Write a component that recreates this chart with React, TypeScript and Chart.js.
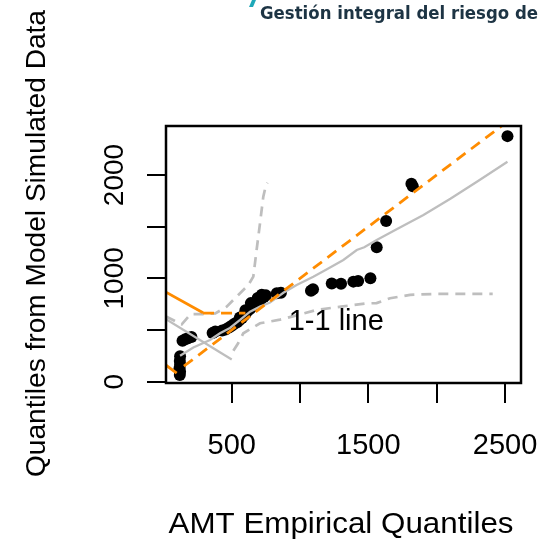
import React, { useEffect, useRef } from 'react';
import { Chart, registerables } from 'chart.js';

Chart.register(...registerables);

const W = 541;
const H = 543;

// axis ticks
const xTicks = [500, 1000, 1500, 2000, 2500];
const xTickLabels = ['500', '', '1500', '', '2500'];
const yTicks = [0, 500, 1000, 1500, 2000];
const yTickLabels = ['0', '', '1000', '', '2000'];
const xRange = [19, 2617];
const yRange = [-13, 2474];

// observed quantile pairs (points)
const empiricalQ = [
  120, 122, 118, 122, 120, 122,
  140, 160, 180, 205,
  360, 380,
  430, 455, 480, 500, 520, 540, 555, 575, 590, 605, 620, 635, 650, 665, 680, 700, 715, 735, 750,
  560, 600, 640, 690, 720,
  830, 860,
  1080, 1095,
  1232, 1300, 1390, 1425, 1515,
  1561, 1630, 1815, 1825, 2518,
];
const simulatedQ = [
  65, 95, 130, 165, 200, 245,
  395, 410, 420, 432,
  470, 485,
  495, 505, 525, 540, 560, 575, 595, 615, 640, 665, 690, 705, 725, 745, 760, 780, 800, 820, 835,
  620, 690, 760, 810, 840,
  855, 860,
  880, 895,
  951, 948, 968, 975, 1000,
  1300, 1554, 1915, 1890, 2376,
];

// 1-1 reference line
const oneToOneX = [150, 2700];
const oneToOneY = [150, 2700];

// grey solid central curve
const centerX = [122, 219, 341, 414, 487, 561, 634, 707, 780, 878, 975, 1097, 1200, 1317, 1415, 1470, 1561, 1700, 1903, 2100, 2300, 2518];
const centerY = [250, 330, 403, 468, 520, 597, 677, 726, 765, 860, 935, 1016, 1090, 1177, 1274, 1300, 1371, 1470, 1613, 1770, 1940, 2128];

// grey solid descending line
const greyDescX = [19, 500];
const greyDescY = [605, 215];

// grey dashed upper band
const upperBandX = [19, 134, 200, 290, 380, 463, 548, 621, 658, 682, 707, 731, 751, 762];
const upperBandY = [630, 555, 654, 654, 660, 726, 839, 935, 1016, 1274, 1532, 1790, 1903, 1925];

// grey dashed lower band
const lowerBandX = [512, 548, 585, 707, 853, 1000, 1122, 1300, 1488, 1560, 1659, 1805, 2000, 2410];
const lowerBandY = [300, 374, 468, 565, 600, 650, 694, 726, 758, 760, 807, 840, 850, 850];

// orange segments
const orangeUpperX = [19, 290];
const orangeUpperY = [866, 667];
const orangeDashX = [290, 600];
const orangeDashY = [663, 663];
const orangeLowerX = [19, 97];
const orangeLowerY = [160, 82];

// annotation
const lineLabel = '1-1 line';
const lineLabelPos = [1265, 0];

const xTitle = 'AMT Empirical Quantiles';
const yTitle = 'Quantiles from Model Simulated Data';
const watermark = 'Gestión integral del riesgo de';

const ORANGE = '#FF8C00';
const GREY = '#BEBEBE';
const FONT = '"Liberation Sans", Arial, sans-serif';

const toXY = (xs: number[], ys: number[]) => xs.map((x, i) => ({ x, y: ys[i] }));

function drawText(
  ctx: CanvasRenderingContext2D,
  text: string,
  x: number,
  y: number,
  size: number,
  o: { width?: number; rotate?: number; align?: CanvasTextAlign; weight?: string; color?: string; family?: string } = {}
) {
  ctx.save();
  ctx.font = `${o.weight || 'normal'} ${size}px ${o.family || FONT}`;
  ctx.fillStyle = o.color || '#000';
  ctx.textAlign = o.align || 'center';
  ctx.textBaseline = 'alphabetic';
  ctx.translate(x, y);
  if (o.rotate) ctx.rotate(o.rotate);
  if (o.width) {
    const w = ctx.measureText(text).width;
    if (w > 0) ctx.scale(o.width / w, 1);
  }
  ctx.fillText(text, 0, 0);
  ctx.restore();
}

const decorPlugin = {
  id: 'decor',
  afterDraw(chart: any) {
    const ctx: CanvasRenderingContext2D = chart.ctx;
    const { left, right, top, bottom } = chart.chartArea;
    const xs = chart.scales.x;
    const ys = chart.scales.y;

    // box
    ctx.save();
    ctx.strokeStyle = '#000';
    ctx.lineWidth = 2.5;
    ctx.strokeRect(left, top, right - left, bottom - top);
    ctx.restore();

    // x tick labels
    xTicks.forEach((v, i) => {
      if (xTickLabels[i]) drawText(ctx, xTickLabels[i], xs.getPixelForValue(v), 454, 29);
    });
    // y tick labels (rotated)
    yTicks.forEach((v, i) => {
      if (yTickLabels[i]) drawText(ctx, yTickLabels[i], 123, ys.getPixelForValue(v), 28, { rotate: -Math.PI / 2 });
    });

    // titles
    drawText(ctx, xTitle, 341, 533, 29, { width: 345 });
    drawText(ctx, yTitle, 45, 243.5, 28, { rotate: -Math.PI / 2, width: 467 });

    // 1-1 line label
    drawText(ctx, lineLabel, xs.getPixelForValue(lineLabelPos[0]), 330, 29);

    // watermark
    ctx.save();
    ctx.fillStyle = '#1fa8b8';
    ctx.beginPath();
    ctx.moveTo(249, 7);
    ctx.lineTo(252, 0);
    ctx.lineTo(256, 0);
    ctx.lineTo(253, 7);
    ctx.closePath();
    ctx.fill();
    ctx.restore();
    drawText(ctx, watermark, 260, 19, 17, { align: 'left', weight: 'bold', color: '#1d3444', width: 278, family: '"DejaVu Sans", sans-serif' });
  },
};

export default function App() {
  const ref = useRef<HTMLCanvasElement | null>(null);

  useEffect(() => {
    if (!ref.current) return;
    const lineDs = (label: string, xs: number[], ys: number[], color: string, width: number, dash: number[], order: number) => ({
      label,
      data: toXY(xs, ys),
      showLine: true,
      borderColor: color,
      backgroundColor: color,
      borderWidth: width,
      borderDash: dash,
      pointRadius: 0,
      pointHoverRadius: 0,
      tension: 0,
      order,
    });

    const chart = new Chart(ref.current, {
      type: 'scatter',
      data: {
        datasets: [
          lineDs('1-1 line', oneToOneX, oneToOneY, ORANGE, 2.8, [11, 7], 1),
          lineDs('orange upper', orangeUpperX, orangeUpperY, ORANGE, 2.8, [], 2),
          lineDs('orange dash', orangeDashX, orangeDashY, ORANGE, 2.8, [11, 7], 2),
          lineDs('orange lower', orangeLowerX, orangeLowerY, ORANGE, 2.8, [], 2),
          lineDs('center', centerX, centerY, GREY, 2.3, [], 3),
          lineDs('grey desc', greyDescX, greyDescY, GREY, 2.3, [], 3),
          lineDs('upper band', upperBandX, upperBandY, GREY, 2.7, [10, 7], 4),
          lineDs('lower band', lowerBandX, lowerBandY, GREY, 2.7, [10, 7], 4),
          {
            label: 'quantiles',
            data: toXY(empiricalQ, simulatedQ),
            showLine: false,
            pointRadius: 6,
            pointHoverRadius: 6,
            pointBackgroundColor: '#000',
            pointBorderColor: '#000',
            pointBorderWidth: 0,
            order: 10,
          },
        ],
      },
      options: {
        animation: false,
        responsive: false,
        devicePixelRatio: 1,
        events: [],
        layout: { padding: { top: 126, right: 20, left: 0, bottom: 0 } },
        plugins: { legend: { display: false }, tooltip: { enabled: false }, title: { display: false } },
        scales: {
          x: {
            type: 'linear',
            min: xRange[0],
            max: xRange[1],
            afterBuildTicks: (s: any) => {
              s.ticks = xTicks.map((v) => ({ value: v }));
            },
            afterFit: (s: any) => {
              s.height = H - 383;
            },
            ticks: { display: false },
            grid: { drawOnChartArea: false, drawTicks: true, tickLength: 20, color: '#000', lineWidth: 2 },
            border: { display: false },
          },
          y: {
            type: 'linear',
            min: yRange[0],
            max: yRange[1],
            afterBuildTicks: (s: any) => {
              s.ticks = yTicks.map((v) => ({ value: v }));
            },
            afterFit: (s: any) => {
              s.width = 166;
            },
            ticks: { display: false },
            grid: { drawOnChartArea: false, drawTicks: true, tickLength: 19, color: '#000', lineWidth: 2 },
            border: { display: false },
          },
        },
      },
      plugins: [decorPlugin],
    } as any);
    return () => chart.destroy();
  }, []);

  return (
    <div style={{ position: 'fixed', left: 0, top: 0, width: W, height: H, background: '#fff' }}>
      <canvas ref={ref} width={W} height={H} style={{ display: 'block', width: W, height: H }} />
    </div>
  );
}
